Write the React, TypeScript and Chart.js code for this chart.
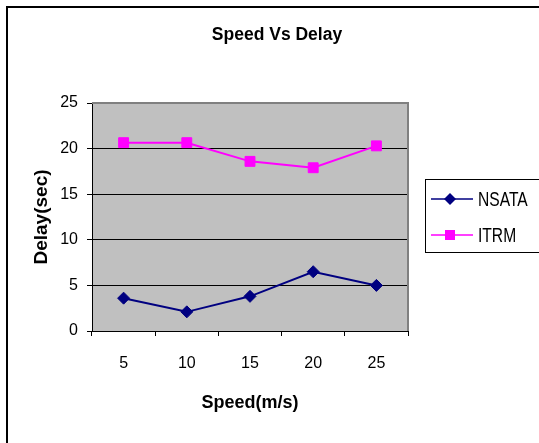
import React, { useEffect, useRef } from "react";
import { Chart, registerables } from "chart.js";

Chart.register(...registerables);

const categories = ["5", "10", "15", "20", "25"];
const nsataValues = [3.6, 2.1, 3.8, 6.5, 5.0];
const itrmValues = [20.65, 20.65, 18.6, 17.9, 20.3];
const yTicks = [0, 5, 10, 15, 20, 25];
const seriesNames = ["NSATA", "ITRM"];
const seriesColors = ["#000080", "#FF00FF"];
const chartTitle = "Speed Vs Delay";
const xTitle = "Speed(m/s)";
const yTitle = "Delay(sec)";

const FAMILY = "'Liberation Sans', Arial, sans-serif";

const decor = {
  id: "decor",
  beforeDraw(chart: any) {
    const { ctx, chartArea: a } = chart;
    ctx.save();
    ctx.fillStyle = "#ffffff";
    ctx.fillRect(0, 0, chart.width, chart.height);
    ctx.strokeStyle = "#000000";
    ctx.lineWidth = 2;
    ctx.strokeRect(7, 7, chart.width + 40, chart.height + 40);
    ctx.fillStyle = "#C0C0C0";
    ctx.fillRect(a.left, a.top, a.right - a.left, a.bottom - a.top);
    ctx.fillStyle = "#000000";
    ctx.font = "bold 17.5px " + FAMILY;
    ctx.textAlign = "center";
    ctx.textBaseline = "middle";
    ctx.fillText(chartTitle, 277, 35);
    ctx.restore();
  },
  beforeDatasetsDraw(chart: any) {
    const { ctx, chartArea: a } = chart;
    ctx.save();
    ctx.strokeStyle = "#808080";
    ctx.lineWidth = 2;
    ctx.beginPath();
    ctx.moveTo(a.left, a.top);
    ctx.lineTo(a.right, a.top);
    ctx.lineTo(a.right, a.bottom);
    ctx.stroke();
    ctx.restore();
  },
  afterDraw(chart: any) {
    const { ctx } = chart;
    ctx.save();
    ctx.strokeStyle = "#000000";
    ctx.lineWidth = 1;
    ctx.strokeRect(425.5, 179.5, 200, 73);
    chart.data.datasets.forEach((ds: any, i: number) => {
      const y = 199 + i * 36;
      ctx.strokeStyle = ds.borderColor;
      ctx.lineWidth = 1.6;
      ctx.beginPath();
      ctx.moveTo(431, y);
      ctx.lineTo(473, y);
      ctx.stroke();
      ctx.fillStyle = ds.backgroundColor;
      const cx = 450;
      if (ds.pointStyle === "rectRot") {
        ctx.beginPath();
        ctx.moveTo(cx - 6, y);
        ctx.lineTo(cx, y - 6);
        ctx.lineTo(cx + 6, y);
        ctx.lineTo(cx, y + 6);
        ctx.closePath();
        ctx.fill();
      } else {
        ctx.fillRect(cx - 5, y - 5, 10, 10);
      }
      ctx.save();
      ctx.translate(478, y + 1);
      ctx.scale(0.78, 1);
      ctx.fillStyle = "#000000";
      ctx.font = "20px " + FAMILY;
      ctx.textAlign = "left";
      ctx.textBaseline = "middle";
      ctx.fillText(ds.label, 0, 0);
      ctx.restore();
    });
    ctx.restore();
  },
};

export default function App() {
  const ref = useRef<HTMLCanvasElement | null>(null);

  useEffect(() => {
    document.body.style.margin = "0";
    const canvas = ref.current;
    if (!canvas) return;
    const chart = new Chart(canvas, {
      type: "line",
      data: {
        labels: categories,
        datasets: [
          {
            label: seriesNames[0],
            data: nsataValues,
            borderColor: seriesColors[0],
            backgroundColor: seriesColors[0],
            borderWidth: 2,
            pointStyle: "rectRot",
            pointRadius: 6,
            pointBorderWidth: 1,
            tension: 0,
          },
          {
            label: seriesNames[1],
            data: itrmValues,
            borderColor: seriesColors[1],
            backgroundColor: seriesColors[1],
            borderWidth: 2,
            pointStyle: "rect",
            pointRadius: 7,
            pointBorderWidth: 1,
            tension: 0,
          },
        ],
      },
      options: {
        responsive: false,
        animation: false,
        devicePixelRatio: 1,
        layout: { padding: { left: 0, right: 131, top: 103, bottom: 0 } },
        plugins: {
          legend: { display: false },
          title: { display: false },
          tooltip: { enabled: false },
        },
        scales: {
          x: {
            type: "category",
            offset: true,
            grid: {
              offset: true,
              drawOnChartArea: false,
              drawTicks: true,
              tickLength: 5,
              color: "#000000",
              lineWidth: 1,
            },
            border: { display: true, color: "#000000", width: 1 },
            ticks: { padding: 18, color: "#000000", font: { family: FAMILY, size: 16 } },
            title: {
              display: true,
              text: xTitle,
              color: "#000000",
              font: { family: FAMILY, size: 18, weight: "bold" },
              padding: { top: 0, bottom: 29 },
            },
            afterFit(scale: any) {
              scale.height = 112;
            },
          },
          y: {
            min: 0,
            max: 25,
            afterBuildTicks(scale: any) {
              scale.ticks = yTicks.map((v) => ({ value: v }));
            },
            ticks: { padding: 9, color: "#000000", font: { family: FAMILY, size: 16 } },
            grid: {
              color: (c: any) => (c.tick && c.tick.value === 25 ? "rgba(0,0,0,0)" : "#000000"),
              tickColor: "#000000",
              tickLength: 5,
              lineWidth: 1,
            },
            border: { display: true, color: "#000000", width: 1 },
            title: {
              display: true,
              text: yTitle,
              color: "#000000",
              font: { family: FAMILY, size: 19, weight: "bold" },
              padding: { top: 30, bottom: 0 },
            },
            afterFit(scale: any) {
              scale.width = 92;
            },
          },
        },
      },
      plugins: [decor],
    } as any);
    return () => chart.destroy();
  }, []);

  return (
    <div style={{ width: 539, height: 443 }}>
      <canvas ref={ref} width={539} height={443} style={{ display: "block" }} />
    </div>
  );
}
